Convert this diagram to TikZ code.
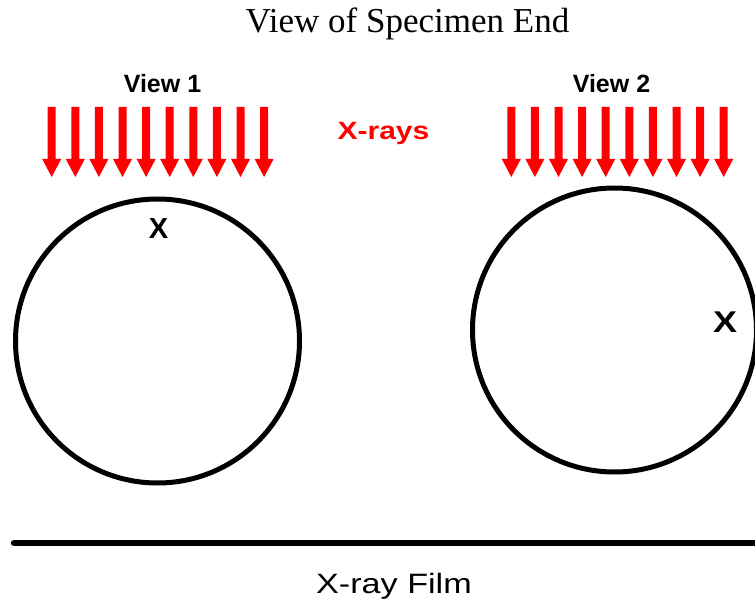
\documentclass[tikz,border=0pt]{standalone}
\usepackage{fontspec}
\setmainfont{Liberation Serif}
\setsansfont{Liberation Sans}
\begin{document}
\begin{tikzpicture}[x=1pt,y=-1pt,
  ray/.style={fill={rgb,255:red,255;green,0;blue,0}},
  ring/.style={draw=black,line width=5pt},
  lbl/.style={font=\sffamily\bfseries\fontsize{25}{27}\selectfont,inner sep=0pt,anchor=base},
  xmark/.style={font=\sffamily\bfseries\fontsize{29}{31}\selectfont,inner sep=0pt,anchor=base}]
\useasboundingbox (0,0) rectangle (755,609);
% title
\node[font=\fontsize{35}{38}\selectfont,inner sep=0pt,anchor=base] (title) at (407.5,33) {View of Specimen End};
\node[lbl] (v1) at (162.5,93) {View 1};
\node[lbl] (v2) at (611.5,93) {View 2};
\node[lbl,text={rgb,255:red,255;green,0;blue,0},xscale=1.2] (xr) at (383.5,140) {X-rays};
% arrows
\foreach \i in {0,...,9}{
  \fill[ray] ({51.7+23.6*\i-4},107) -- ({51.7+23.6*\i+4},107) -- ({51.7+23.6*\i+4},159)
    -- ({51.7+23.6*\i+9.5},159) -- ({51.7+23.6*\i},177) -- ({51.7+23.6*\i-9.5},159)
    -- ({51.7+23.6*\i-4},159) -- cycle;
  \fill[ray] ({511.3+23.6*\i-4},107) -- ({511.3+23.6*\i+4},107) -- ({511.3+23.6*\i+4},159)
    -- ({511.3+23.6*\i+9.5},159) -- ({511.3+23.6*\i},177) -- ({511.3+23.6*\i-9.5},159)
    -- ({511.3+23.6*\i-4},159) -- cycle;
}
% specimens
\draw[ring] (157.5,341) circle (142);
\draw[ring] (614.5,330) circle (142);
\node[xmark] (x1) at (158.5,239) {X};
\node[xmark,font=\sffamily\bfseries\fontsize{30}{32}\selectfont,xscale=1.2] (x2) at (725,333) {X};
% film
\coordinate (fa) at (14,543);
\coordinate (fb) at (760,543);
\draw[line width=6.5pt,line cap=round] (fa) -- (fb);
\node[font=\sffamily\fontsize{28}{30}\selectfont,inner sep=0pt,anchor=base,xscale=1.22] (film) at (394,593) {X-ray Film};
\end{tikzpicture}
\end{document}
